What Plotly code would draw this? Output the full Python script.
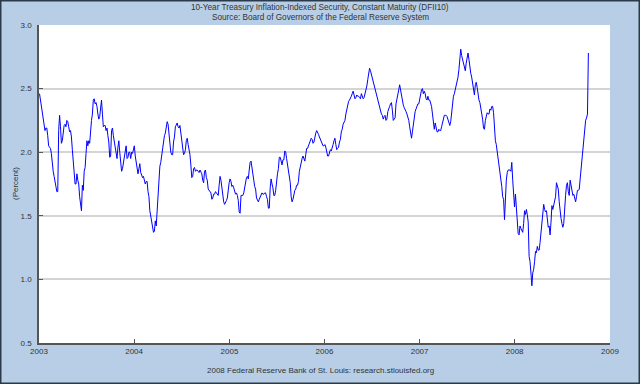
import pandas as pd
import plotly.graph_objects as go

# Readings of the 10-year TIPS yield (percent): one on each Friday (values_*)
# and one half a week later (mid_*).
start_date = "2003-01-03"
values_2003 = [2.46, 2.38, 2.28, 2.17, 2.19, 2.05, 2.03, 1.90, 1.81, 1.73,
               1.69, 2.29, 2.07, 2.19, 2.22, 2.25, 2.20, 2.17, 2.02, 1.85,
               1.75, 1.78, 1.65, 1.54, 1.70, 1.88, 2.09, 2.09, 2.20, 2.30,
               2.42, 2.39, 2.30, 2.28, 2.41, 2.20, 2.21, 2.19, 2.08, 1.97,
               2.19, 2.08, 1.98, 2.04, 2.00, 1.85, 1.91, 2.02, 1.95, 2.00,
               1.95, 1.99]
mid_2003 = [2.41, 2.34, 2.22, 2.19, 2.13, 2.04, 1.99, 1.85, 1.75, 1.69,
            2.17, 2.20, 2.09, 2.21, 2.20, 2.24, 2.16, 2.12, 1.94, 1.75,
            1.83, 1.75, 1.57, 1.74, 1.85, 1.99, 2.05, 2.07, 2.25, 2.41,
            2.38, 2.36, 2.26, 2.33, 2.30, 2.21, 2.17, 2.13, 1.96, 2.17,
            2.13, 2.03, 1.95, 2.09, 1.91, 1.87, 1.96, 2.05, 1.96, 2.00,
            2.00, 2.03]
values_2004 = [2.05, 1.92, 1.83, 1.91, 1.81, 1.81, 1.75, 1.77, 1.65, 1.50,
               1.42, 1.38, 1.42, 1.60, 1.89, 1.97, 2.10, 2.15, 2.24, 2.13,
               2.00, 1.98, 2.12, 2.22, 2.20, 2.21, 2.07, 1.98, 2.02, 2.11,
               2.03, 1.90, 1.81, 1.88, 1.86, 1.85, 1.86, 1.83, 1.76, 1.86,
               1.78, 1.70, 1.68, 1.64, 1.67, 1.68, 1.66, 1.81, 1.71, 1.61,
               1.60, 1.64]
mid_2004 = [1.97, 1.87, 1.87, 1.84, 1.80, 1.78, 1.77, 1.69, 1.54, 1.46,
            1.37, 1.46, 1.56, 1.80, 1.92, 2.04, 2.13, 2.21, 2.22, 2.08,
            1.98, 2.08, 2.20, 2.23, 2.19, 2.14, 2.01, 1.99, 2.09, 2.06,
            1.98, 1.80, 1.87, 1.85, 1.86, 1.84, 1.84, 1.78, 1.85, 1.80,
            1.71, 1.69, 1.63, 1.67, 1.69, 1.67, 1.74, 1.78, 1.66, 1.59,
            1.62, 1.71]
values_2005 = [1.76, 1.77, 1.74, 1.70, 1.68, 1.62, 1.52, 1.66, 1.68, 1.78,
               1.81, 1.86, 1.93, 1.84, 1.73, 1.64, 1.61, 1.65, 1.68, 1.67,
               1.68, 1.63, 1.56, 1.79, 1.72, 1.66, 1.78, 1.87, 1.96, 1.90,
               1.94, 2.00, 1.90, 1.82, 1.65, 1.63, 1.70, 1.74, 1.77, 1.89,
               1.95, 1.95, 1.98, 2.03, 2.07, 2.11, 2.07, 2.13, 2.17, 2.14,
               2.10, 2.07]
mid_2005 = [1.79, 1.73, 1.72, 1.67, 1.66, 1.53, 1.66, 1.66, 1.72, 1.80,
            1.79, 1.92, 1.89, 1.78, 1.71, 1.63, 1.63, 1.66, 1.67, 1.68,
            1.65, 1.56, 1.72, 1.75, 1.66, 1.70, 1.83, 1.96, 1.92, 1.94,
            2.01, 1.95, 1.85, 1.76, 1.61, 1.68, 1.71, 1.74, 1.85, 1.93,
            1.97, 1.93, 2.03, 2.05, 2.09, 2.10, 2.08, 2.15, 2.16, 2.12,
            2.08, 2.05]
values_2006 = [2.05, 2.04, 1.97, 2.01, 2.01, 2.06, 2.11, 2.02, 2.04, 2.10,
               2.18, 2.23, 2.30, 2.37, 2.41, 2.44, 2.48, 2.42, 2.45, 2.44,
               2.42, 2.44, 2.43, 2.48, 2.57, 2.66, 2.61, 2.55, 2.50, 2.45,
               2.39, 2.33, 2.29, 2.28, 2.25, 2.32, 2.36, 2.39, 2.25, 2.27,
               2.43, 2.49, 2.49, 2.39, 2.35, 2.32, 2.28, 2.20, 2.11, 2.22,
               2.32, 2.36]
mid_2006 = [2.06, 2.01, 1.97, 2.02, 2.03, 2.09, 2.06, 2.03, 2.08, 2.16,
            2.22, 2.25, 2.34, 2.40, 2.42, 2.46, 2.45, 2.43, 2.44, 2.43,
            2.46, 2.42, 2.46, 2.52, 2.61, 2.64, 2.58, 2.53, 2.48, 2.41,
            2.36, 2.30, 2.26, 2.29, 2.26, 2.35, 2.38, 2.33, 2.26, 2.38,
            2.47, 2.53, 2.46, 2.37, 2.34, 2.30, 2.25, 2.16, 2.16, 2.27,
            2.34, 2.38]
values_2007 = [2.38, 2.47, 2.50, 2.48, 2.42, 2.44, 2.41, 2.36, 2.21, 2.23,
               2.16, 2.18, 2.17, 2.24, 2.29, 2.29, 2.26, 2.21, 2.31, 2.44,
               2.49, 2.54, 2.65, 2.81, 2.73, 2.68, 2.70, 2.78, 2.65, 2.59,
               2.48, 2.53, 2.51, 2.41, 2.35, 2.26, 2.18, 2.29, 2.30, 2.34,
               2.36, 2.31, 2.09, 2.01, 1.89, 1.80, 1.65, 1.47, 1.78, 1.86,
               1.86, 1.92]
mid_2007 = [2.43, 2.49, 2.46, 2.46, 2.41, 2.41, 2.39, 2.30, 2.18, 2.20,
            2.16, 2.17, 2.20, 2.27, 2.29, 2.28, 2.24, 2.24, 2.38, 2.46,
            2.51, 2.59, 2.73, 2.76, 2.71, 2.64, 2.75, 2.73, 2.62, 2.54,
            2.45, 2.55, 2.44, 2.39, 2.31, 2.19, 2.25, 2.31, 2.30, 2.33,
            2.36, 2.14, 2.06, 1.95, 1.86, 1.73, 1.63, 1.66, 1.84, 1.86,
            1.85, 1.78]
values_2008 = [1.62, 1.67, 1.49, 1.35, 1.40, 1.37, 1.54, 1.55, 1.45, 1.14,
               0.95, 1.08, 1.22, 1.26, 1.23, 1.37, 1.50, 1.55, 1.54, 1.41,
               1.35, 1.58, 1.59, 1.65, 1.74, 1.61, 1.48, 1.41, 1.59, 1.74,
               1.69, 1.78, 1.69, 1.67, 1.61, 1.70, 1.71, 1.87, 2.02, 2.21,
               2.27, 2.78]
mid_2008 = [1.57, 1.55, 1.36, 1.42, 1.39, 1.44, 1.51, 1.51, 1.18, 1.05,
            1.05, 1.14, 1.21, 1.23, 1.29, 1.45, 1.59, 1.53, 1.46, 1.42,
            1.45, 1.55, 1.60, 1.76, 1.71, 1.51, 1.44, 1.44, 1.66, 1.76,
            1.66, 1.74, 1.66, 1.64, 1.65, 1.70, 1.79, 1.93, 2.10, 2.25,
            2.30]

year_ticks = ["2003", "2004", "2005", "2006", "2007", "2008", "2009"]
y_ticks = [0.5, 1.0, 1.5, 2.0, 2.5, 3.0]

weekly = values_2003 + values_2004 + values_2005 + values_2006 + values_2007 + values_2008
mids = mid_2003 + mid_2004 + mid_2005 + mid_2006 + mid_2007 + mid_2008
weekly_dates = pd.date_range(start_date, periods=len(weekly), freq="7D")
mid_dates = weekly_dates[:len(mids)] + pd.Timedelta(hours=84)
df = pd.concat([pd.DataFrame({"date": weekly_dates, "value": weekly}),
                pd.DataFrame({"date": mid_dates, "value": mids})]).sort_values("date")

W, H = 640, 384
L, R, T, B = 39, 30, 25, 41
pw, ph = W - L - R, H - T - B

FONT = "Liberation Sans"
TXT = "#333333"
BG = "#b8cee6"

fig = go.Figure()
fig.add_trace(go.Scatter(x=df["date"], y=df["value"], mode="lines",
                         line=dict(color="#0000ff", width=1), hoverinfo="skip"))

fig.update_layout(
    width=W, height=H,
    margin=dict(l=L, r=R, t=T, b=B),
    paper_bgcolor=BG, plot_bgcolor="white",
    showlegend=False,
    font=dict(family=FONT, size=8, color=TXT),
    xaxis=dict(type="date", range=[year_ticks[0] + "-01-01", year_ticks[-1] + "-01-01"],
               tickvals=[y + "-01-01" for y in year_ticks], ticktext=year_ticks,
               showgrid=False, zeroline=False,
               showline=True, linecolor="#555555", linewidth=1.5,
               ticks="inside", ticklen=4, tickcolor="#555555",
               tickfont=dict(family=FONT, size=8, color=TXT)),
    yaxis=dict(range=[0.5, 3.0], tickvals=y_ticks, ticktext=[f"{v:.1f}" for v in y_ticks],
               showgrid=True, gridcolor="#d4d4d4", gridwidth=1.5, zeroline=False,
               showline=True, linecolor="#555555", linewidth=1.5,
               ticks="inside", ticklen=4, tickcolor="#555555",
               ticklabelstandoff=4,
               tickfont=dict(family=FONT, size=8, color=TXT)),
)

cx = (W / 2 - L) / pw
fig.add_annotation(text="10-Year Treasury Inflation-Indexed Security, Constant Maturity (DFII10)",
                   xref="paper", yref="paper", x=cx, y=1 + (T - 7) / ph,
                   showarrow=False, xanchor="center", yanchor="middle",
                   font=dict(family=FONT, size=8.2, color=TXT))
fig.add_annotation(text="Source: Board of Governors of the Federal Reserve System",
                   xref="paper", yref="paper", x=cx, y=1 + (T - 18) / ph,
                   showarrow=False, xanchor="center", yanchor="middle",
                   font=dict(family=FONT, size=8.2, color=TXT))
fig.add_annotation(text="2008 Federal Reserve Bank of St. Louis: research.stlouisfed.org",
                   xref="paper", yref="paper", x=cx, y=-(370 - (T + ph)) / ph,
                   showarrow=False, xanchor="center", yanchor="middle",
                   font=dict(family=FONT, size=8, color=TXT))
fig.add_annotation(text="(Percent)", textangle=-90,
                   xref="paper", yref="paper", x=(15 - L) / pw, y=0.5,
                   showarrow=False, xanchor="center", yanchor="middle",
                   font=dict(family=FONT, size=8, color=TXT))

# outer dark frame
fig.add_shape(type="rect", xref="paper", yref="paper", layer="above",
              x0=(0.75 - L) / pw, x1=(W - 0.75 - L) / pw,
              y0=-(B - 0.75) / ph, y1=1 + (T - 0.75) / ph,
              line=dict(color="#2b3a4a", width=1.5), fillcolor="rgba(0,0,0,0)")

fig.write_html("out.html", config={"displayModeBar": False},
               post_script="document.body.style.margin='0px';document.body.style.overflow='hidden';")
